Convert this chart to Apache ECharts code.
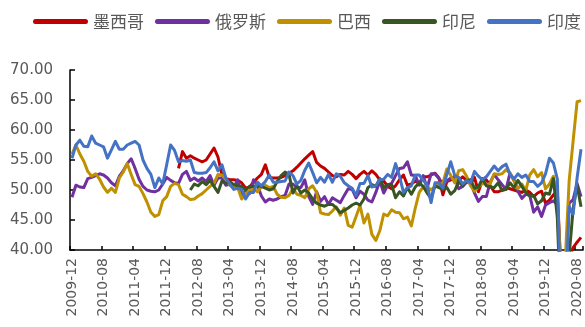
<!DOCTYPE html>
<html>
<head>
<meta charset="utf-8">
<script src="https://cdn.jsdelivr.net/npm/echarts@6/dist/echarts.min.js"></script>
<style>
  html, body { margin: 0; padding: 0; background: #ffffff; }
  #chart { width: 585px; height: 327px; }
</style>
</head>
<body>
<div id="chart"></div>
<script>
// Monthly manufacturing PMI, 2009-12 .. 2020-09
const months = [];
for (let y = 2009, m = 12; months.length < 130;) {
  months.push(y + '-' + String(m).padStart(2, '0'));
  m++;
  if (m > 12) { m = 1; y++; }
}

const seriesNames = ['墨西哥', '俄罗斯', '巴西', '印尼', '印度'];

const mexico = [
  null, null, null, null, null, null, null, null, null, null,
  null, null, null, null, null, null, null, null, null, null,
  null, null, null, null, null, null, null,
  53.6, 56.4, 55.3, 55.7, 55.3, 55.0, 54.7, 55.0, 56.0, 57.0,
  55.5, 52.5, 51.9, 51.7, 51.7, 51.6, 51.2, 50.3, 50.5, 51.3, 52.0, 52.6,
  54.2, 52.1, 52.0, 52.0, 52.1, 52.4, 52.8, 53.2, 53.8, 54.5, 55.2, 55.8,
  56.4, 54.6, 54.0, 53.6, 53.0, 52.4, 52.2, 52.6, 52.5, 53.1, 52.6, 51.9,
  52.6, 53.1, 52.5, 53.2, 52.6, 51.7, 51.5, 50.6, 50.2, 50.7, 51.7, 52.5,
  50.8, 51.0, 51.5, 51.1, 52.2, 52.2, 52.5, 52.8, 52.0, 49.2, 51.4, 51.7,
  52.3, 51.6, 52.2, 51.6, 51.0, 52.1, 49.7, 51.7, 51.7, 50.7, 49.7, 49.7,
  50.0, 50.4, 50.2, 50.0, 49.8, 49.6, 50.0, 49.6, 48.9, 49.5, 49.8, 47.8,
  48.3, 49.2, 49.8, 35.0, 38.3, 38.6, 40.4, 41.3, 42.1
];

const russia = [
  48.8, 50.8, 50.5, 50.4, 51.9, 52.1, 52.4, 52.7, 52.5, 52.0, 51.2, 50.7, 52.3,
  53.2, 54.4, 55.2, 53.6, 51.8, 50.6, 50.0, 49.8, 49.7, 50.0, 51.0, 52.1,
  51.6, 51.2, 51.1, 52.6, 53.1, 51.6, 52.0, 51.5, 52.0, 51.4, 52.4, 50.8,
  52.0, 52.0, 50.8, 51.0, 50.4, 51.7, 49.1, 49.8, 49.4, 51.7, 50.8, 49.0,
  48.0, 48.5, 48.3, 48.5, 48.9, 49.1, 51.0, 51.0, 50.4, 50.4, 51.7, 48.9,
  47.6, 49.7, 48.1, 48.9, 47.6, 48.7, 48.3, 47.9, 49.1, 50.2, 50.1, 48.7,
  49.8, 49.3, 48.3, 48.0, 49.6, 51.5, 49.5, 50.8, 51.1, 52.4, 53.6, 53.7,
  54.7, 52.5, 52.4, 50.8, 52.4, 50.3, 52.7, 52.7, 51.9, 51.1, 51.5, 52.0,
  52.1, 50.2, 50.6, 51.3, 51.3, 49.5, 48.1, 48.9, 48.9, 51.3, 52.6, 51.7,
  50.9, 50.1, 52.8, 51.8, 49.8, 48.6, 49.3, 49.1, 46.3, 47.2, 45.6, 47.5,
  47.9, 48.2, 47.5, 31.3, 36.2, 47.8, 48.4, 51.1, 48.9
];

const brazil = [
  56.0, 57.5, 56.0, 54.8, 53.1, 52.3, 52.7, 51.8, 50.5, 49.6, 50.3, 49.6, 52.0,
  53.0, 54.4, 52.6, 50.9, 50.6, 49.4, 48.0, 46.3, 45.6, 45.9, 48.2, 48.9,
  50.6, 51.1, 50.9, 49.3, 48.9, 48.4, 48.5, 49.0, 49.4, 50.0, 50.6, 51.1,
  52.6, 52.5, 51.8, 50.8, 50.4, 50.4, 48.5, 49.4, 49.9, 50.2, 49.7, 50.5,
  50.8, 50.4, 50.6, 49.3, 48.8, 48.7, 49.1, 50.2, 49.3, 49.1, 48.7, 50.2,
  50.7, 49.6, 46.2, 46.0, 45.9, 46.5, 47.2, 45.8, 47.0, 44.1, 43.8, 45.6,
  47.4, 44.5, 46.0, 42.6, 41.6, 43.2, 46.0, 45.7, 46.7, 46.3, 46.2, 45.2,
  45.5, 44.0, 47.0, 49.6, 50.5, 50.6, 50.0, 50.6, 50.9, 51.2, 53.5, 52.4,
  51.2, 53.2, 53.4, 52.3, 50.7, 49.8, 50.5, 51.1, 50.9, 51.1, 52.7, 52.6,
  52.7, 53.4, 52.8, 51.5, 50.2, 51.0, 49.9, 52.5, 53.4, 52.2, 52.9, 50.2,
  51.0, 52.3, 48.4, 36.0, 38.3, 51.6, 58.2, 64.7, 64.9
];

const indonesia = [
  null, null, null, null, null, null, null, null, null, null,
  null, null, null, null, null, null, null, null, null, null,
  null, null, null, null, null, null, null, null, null, null,
  50.0, 51.0, 50.7, 51.4, 50.9, 51.6, 50.6,
  49.6, 51.5, 51.1, 51.4, 50.9, 50.7, 50.6, 50.0, 50.6, 50.6, 50.8, 50.6,
  50.3, 50.0, 50.2, 51.4, 52.4, 53.0, 52.6, 49.5, 50.7, 49.5, 50.0, 49.5,
  48.5, 47.8, 47.5, 47.3, 47.6, 47.6, 47.0, 46.2, 46.6, 47.0, 47.5, 47.8,
  47.5, 48.5, 50.4, 50.9, 50.6, 51.9, 50.4, 50.9, 50.9, 48.7, 49.7, 49.0,
  50.4, 49.3, 50.5, 51.2, 50.6, 49.5, 48.6, 50.7, 50.4, 50.1, 50.4, 49.3,
  49.9, 51.4, 50.7, 51.6, 51.7, 50.3, 50.5, 51.9, 50.7, 50.5, 50.4, 51.2,
  49.9, 50.1, 51.2, 50.4, 51.6, 50.6, 49.6, 49.0, 49.1, 47.7, 48.2, 49.5,
  49.3, 51.9, 45.3, 27.5, 28.6, 39.1, 46.9, 50.8, 47.2
];

const india = [
  55.3, 57.5, 58.3, 57.3, 57.2, 59.0, 57.8, 57.5, 57.2, 55.3, 56.7, 58.1, 56.8,
  56.8, 57.5, 57.8, 58.1, 57.5, 55.0, 53.6, 52.6, 50.4, 52.0, 51.0, 54.2,
  57.5, 56.6, 54.7, 54.9, 54.8, 55.0, 52.9, 52.8, 52.8, 52.9, 53.7, 54.7,
  53.2, 54.2, 52.0, 51.0, 50.1, 50.3, 50.1, 48.5, 49.6, 49.6, 51.3, 50.7,
  51.4, 52.5, 51.3, 51.3, 51.4, 51.5, 53.0, 52.4, 51.0, 51.6, 53.3, 54.5,
  52.9, 51.2, 52.1, 51.3, 52.6, 51.3, 52.7, 52.3, 51.2, 50.7, 50.3, 49.1,
  51.1, 51.1, 52.4, 50.5, 50.7, 51.7, 51.8, 52.6, 52.1, 54.4, 52.3, 49.6,
  50.4, 50.7, 52.5, 52.5, 51.6, 50.9, 47.9, 51.2, 51.2, 50.3, 52.6, 54.7,
  52.4, 52.1, 51.0, 51.6, 51.2, 53.1, 52.3, 51.7, 52.2, 53.1, 54.0, 53.2,
  53.9, 54.3, 52.6, 51.8, 52.7, 52.1, 52.5, 51.4, 51.4, 50.6, 51.2, 52.7,
  55.3, 54.5, 51.8, 27.4, 30.8, 47.2, 46.0, 52.0, 56.8
];

const seriesData = [mexico, russia, brazil, indonesia, india];
const seriesColors = ['#C00000', '#7030A0', '#BF9000', '#375623', '#4472C4'];

const chart = echarts.init(document.getElementById('chart'), null, { renderer: 'canvas' });

chart.setOption({
  backgroundColor: '#ffffff',
  animation: false,
  color: seriesColors,
  legend: {
    data: seriesNames,
    left: 33,
    top: 13,
    width: 560,
    padding: 0,
    itemWidth: 55,
    itemHeight: 5,
    itemGap: 11,
    icon: 'path://M2.5,0H52.5A2.5,2.5,0,0,1,52.5,5H2.5A2.5,2.5,0,0,1,2.5,0Z',
    textStyle: {
      fontFamily: 'Noto Sans CJK SC',
      fontSize: 17,
      color: '#595959',
      padding: [0, 0, 0, 0]
    }
  },
  grid: { left: 70, right: 2, top: 70, bottom: 77, containLabel: false },
  xAxis: {
    type: 'category',
    data: months,
    boundaryGap: true,
    axisLine: { show: true, lineStyle: { color: '#000000', width: 1.5 } },
    axisTick: { show: true, inside: true, length: 4, interval: 7, lineStyle: { color: '#000000', width: 1.5 } },
    axisLabel: {
      interval: 7,
      rotate: 90,
      margin: 8,
      fontFamily: 'DejaVu Sans',
      fontSize: 14,
      color: '#595959'
    },
    splitLine: { show: false }
  },
  yAxis: {
    type: 'value',
    min: 40,
    max: 70,
    interval: 5,
    axisLine: { show: true, lineStyle: { color: '#000000', width: 1.5 } },
    axisTick: { show: true, inside: true, length: 5, lineStyle: { color: '#000000', width: 1.5 } },
    axisLabel: {
      margin: 17,
      fontFamily: 'DejaVu Sans',
      fontSize: 15,
      color: '#595959',
      formatter: v => v.toFixed(2)
    },
    splitLine: { show: false }
  },
  series: seriesNames.map((name, k) => ({
    name: name,
    type: 'line',
    data: seriesData[k],
    showSymbol: false,
    symbol: 'none',
    connectNulls: false,
    clip: true,
    lineStyle: { width: 3, color: seriesColors[k], join: 'round' },
    itemStyle: { color: seriesColors[k] }
  }))
});
</script>
</body>
</html>
